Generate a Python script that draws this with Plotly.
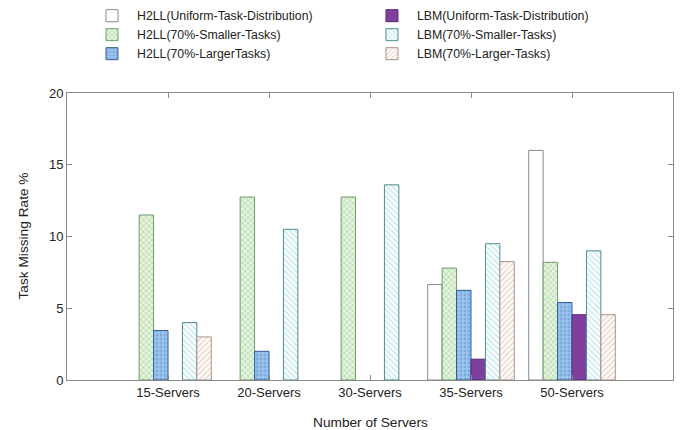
import plotly.graph_objects as go

categories = ["15-Servers", "20-Servers", "30-Servers", "35-Servers", "50-Servers"]

h2ll_uniform = [None, None, None, 6.65, 16.0]
h2ll_smaller = [11.5, 12.75, 12.75, 7.8, 8.2]
h2ll_larger = [3.45, 2.0, None, 6.25, 5.4]
lbm_uniform = [None, None, None, 1.45, 4.55]
lbm_smaller = [4.0, 10.5, 13.6, 9.5, 9.0]
lbm_larger = [3.0, None, None, 8.25, 4.55]

series = [
    ("H2LL(Uniform-Task-Distribution)", h2ll_uniform, "#ffffff", "", "#ffffff", "#8a8a8a", "legend"),
    ("H2LL(70%-Smaller-Tasks)", h2ll_smaller, "#e6f3de", "x", "#86c47f", "#6f9a6c", "legend"),
    ("H2LL(70%-LargerTasks)", h2ll_larger, "#9cc4ee", ".", "#5b8fd0", "#2f5f9a", "legend"),
    ("LBM(Uniform-Task-Distribution)", lbm_uniform, "#7e3f9f", "", "#7e3f9f", "#5a2a78", "legend2"),
    ("LBM(70%-Smaller-Tasks)", lbm_smaller, "#ffffff", "\\", "#93d3de", "#4f8c90", "legend2"),
    ("LBM(70%-Larger-Tasks)", lbm_larger, "#ffffff", "/", "#dcae9e", "#a89488", "legend2"),
]

fig = go.Figure()
for name, vals, bg, shape, fg, line, lg in series:
    pattern = dict(shape=shape, fgcolor=fg, bgcolor=bg, size=4, solidity=0.4, fillmode="overlay") if shape else None
    fig.add_trace(go.Bar(
        x=categories, y=vals, name=name, legend=lg,
        marker=dict(color=bg, line=dict(color=line, width=1), pattern=pattern),
    ))

title_font = dict(size=13.7, color="#222222")

# the page body adds an 8px offset, margins compensate for it
fig.update_layout(
    width=682, height=430,
    margin=dict(l=59, r=17, t=85, b=58, autoexpand=False),
    paper_bgcolor="white", plot_bgcolor="white",
    barmode="group", bargap=1/7, bargroupgap=0,
    font=dict(family="Liberation Sans, Arial, sans-serif", size=13, color="#222222"),
    showlegend=True,
    legend=dict(x=0.033, y=1.32, xanchor="left", yanchor="top",
                bgcolor="rgba(0,0,0,0)", font=dict(size=12.3), tracegroupgap=0, itemwidth=40,
                traceorder="normal"),
    legend2=dict(x=0.495, y=1.32, xanchor="left", yanchor="top",
                 bgcolor="rgba(0,0,0,0)", font=dict(size=12.3), tracegroupgap=0, itemwidth=40,
                 traceorder="normal"),
    annotations=[
        dict(text="Task Missing Rate %", xref="paper", yref="paper", x=-0.0726, y=0.5,
             xanchor="center", yanchor="middle", textangle=-90, showarrow=False, font=title_font),
        dict(text="Number of Servers", xref="paper", yref="paper", x=0.5, y=-0.1498,
             xanchor="center", yanchor="middle", showarrow=False, font=title_font),
    ],
)
fig.update_xaxes(
    type="category", range=[-1, 5], automargin=False,
    showline=True, linecolor="#8a8a8a", linewidth=1, mirror="ticks",
    ticks="inside", ticklen=5, tickcolor="#8a8a8a", showgrid=False,
)
fig.update_yaxes(
    range=[0, 20], tickvals=[0, 5, 10, 15, 20], automargin=False,
    showline=True, linecolor="#8a8a8a", linewidth=1, mirror="ticks",
    ticks="inside", ticklen=5, tickcolor="#8a8a8a", showgrid=False, zeroline=False,
)

fig.write_html("out.html")
